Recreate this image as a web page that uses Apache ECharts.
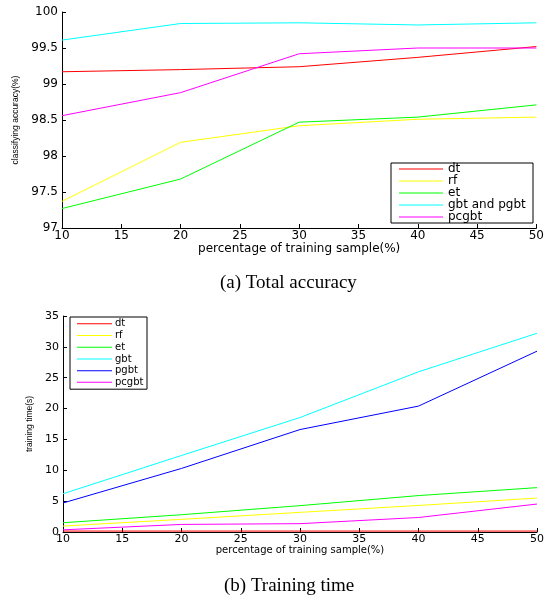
<!DOCTYPE html>
<html><head><meta charset="utf-8">
<script src="https://cdn.jsdelivr.net/npm/echarts@6/dist/echarts.min.js"></script>
<style>html,body{margin:0;padding:0;background:#fff}#c{width:547px;height:601px}</style>
</head><body><div id="c"></div>
<script>
const xValues = [10, 20, 30, 40, 50];

// (a) Total accuracy (%)
const accNames = ['dt', 'rf', 'et', 'gbt and pgbt', 'pcgbt'];
const accDt = [99.17, 99.20, 99.24, 99.37, 99.52];
const accRf = [97.37, 98.19, 98.42, 98.51, 98.54];
const accEt = [97.27, 97.68, 98.47, 98.54, 98.71];
const accGbt = [99.61, 99.84, 99.85, 99.82, 99.85];
const accPcgbt = [98.56, 98.88, 99.42, 99.50, 99.50];

// (b) Training time (s)
const timeNames = ['dt', 'rf', 'et', 'gbt', 'pgbt', 'pcgbt'];
const timeDt = [0.15, 0.15, 0.15, 0.15, 0.15];
const timeRf = [0.96, 2.05, 3.18, 4.3, 5.5];
const timeEt = [1.5, 2.8, 4.27, 5.9, 7.19];
const timeGbt = [6.2, 12.4, 18.55, 25.96, 32.2];
const timePgbt = [4.7, 10.3, 16.6, 20.4, 29.3];
const timePcgbt = [0.35, 1.23, 1.35, 2.35, 4.53];

const colors = {dt:'#ff0000', rf:'#ffff00', et:'#00ff00', gbt:'#00ffff', 'gbt and pgbt':'#00ffff', pgbt:'#0000ff', pcgbt:'#ff00ff'};

const pairs = (ys) => xValues.map((x, i) => [x, ys[i]]);
const mk = (name, ys, idx) => ({
  type: 'line', name, data: pairs(ys), xAxisIndex: idx, yAxisIndex: idx,
  showSymbol: false, symbol: 'none', animation: false,
  lineStyle: {color: colors[name], width: 1}, itemStyle: {color: colors[name]}
});

const axisCommon = {
  axisLine: {show: true, lineStyle: {color: '#000', width: 1}},
  axisTick: {show: true, inside: true, length: 4, lineStyle: {color: '#000'}},
  splitLine: {show: false}
};

const chart = echarts.init(document.getElementById('c'), null, {renderer: 'canvas'});
chart.setOption({
  backgroundColor: '#fff',
  animation: false,
  title: [
    {text: '(a) Total accuracy', left: 220, top: 274, padding: 0,
     textStyle: {fontFamily: 'Liberation Serif', fontSize: 19, fontWeight: 'normal', color: '#000'}},
    {text: '(b) Training time', left: 224, top: 577, padding: 0,
     textStyle: {fontFamily: 'Liberation Serif', fontSize: 19, fontWeight: 'normal', color: '#000'}}
  ],
  grid: [
    {left: 62, top: 12, width: 476, height: 216},
    {left: 63, top: 316, width: 475, height: 216}
  ],
  xAxis: [
    Object.assign({type: 'value', gridIndex: 0, min: 10, max: 50, interval: 5,
      name: 'percentage of training sample(%)', nameLocation: 'middle', nameGap: 13,
      nameTextStyle: {fontFamily: 'DejaVu Sans', fontSize: 12, color: '#000'},
      axisLabel: {margin: 2, fontFamily: 'DejaVu Sans', fontSize: 12, color: '#000'}}, axisCommon),
    Object.assign({type: 'value', gridIndex: 1, min: 10, max: 50, interval: 5,
      name: 'percentage of training sample(%)', nameLocation: 'middle', nameGap: 12,
      nameTextStyle: {fontFamily: 'DejaVu Sans', fontSize: 10, color: '#000'},
      axisLabel: {margin: 2, fontFamily: 'DejaVu Sans', fontSize: 11, color: '#000'}}, axisCommon)
  ],
  yAxis: [
    Object.assign({type: 'value', gridIndex: 0, min: 97, max: 100, interval: 0.5,
      name: 'classifying accuracy(%)', nameLocation: 'middle', nameGap: 41,
      nameTextStyle: {fontFamily: 'Liberation Sans Narrow, Liberation Sans', fontSize: 8.5, color: '#000'},
      axisLabel: {margin: 4, fontFamily: 'DejaVu Sans', fontSize: 12, color: '#000'}}, axisCommon),
    Object.assign({type: 'value', gridIndex: 1, min: 0, max: 35, interval: 5,
      name: 'training time(s)', nameLocation: 'middle', nameGap: 21,
      nameTextStyle: {fontFamily: 'Liberation Sans Narrow, Liberation Sans', fontSize: 8.5, color: '#000'},
      axisLabel: {margin: 4, fontFamily: 'DejaVu Sans', fontSize: 11, color: '#000'}}, axisCommon)
  ],
  legend: [
    {data: accNames.map(n => ({name: n, icon: 'rect', itemStyle: {color: colors[n]}})),
     orient: 'vertical', left: 391, top: 163, padding: [0, 5, 0, 8], itemGap: 0,
     itemWidth: 44, itemHeight: 1, selectedMode: false,
     borderColor: '#000', borderWidth: 1, backgroundColor: '#fff',
     textStyle: {fontFamily: 'DejaVu Sans', fontSize: 12, lineHeight: 12, width: 80, color: '#000'}},
    {data: timeNames.map(n => ({name: n, icon: 'rect', itemStyle: {color: colors[n]}})),
     orient: 'vertical', left: 70, top: 317, padding: [1, 3, 1, 7], itemGap: 0,
     itemWidth: 35, itemHeight: 1, selectedMode: false,
     borderColor: '#000', borderWidth: 1, backgroundColor: '#fff',
     textStyle: {fontFamily: 'DejaVu Sans', fontSize: 10, lineHeight: 11.7, width: 29, color: '#000', padding: [0,0,0,-2]}}
  ],
  series: [
    mk('dt', accDt, 0), mk('rf', accRf, 0), mk('et', accEt, 0),
    mk('gbt and pgbt', accGbt, 0), mk('pcgbt', accPcgbt, 0),
    mk('dt', timeDt, 1), mk('rf', timeRf, 1), mk('et', timeEt, 1),
    mk('gbt', timeGbt, 1), mk('pgbt', timePgbt, 1), mk('pcgbt', timePcgbt, 1)
  ]
});
</script></body></html>
